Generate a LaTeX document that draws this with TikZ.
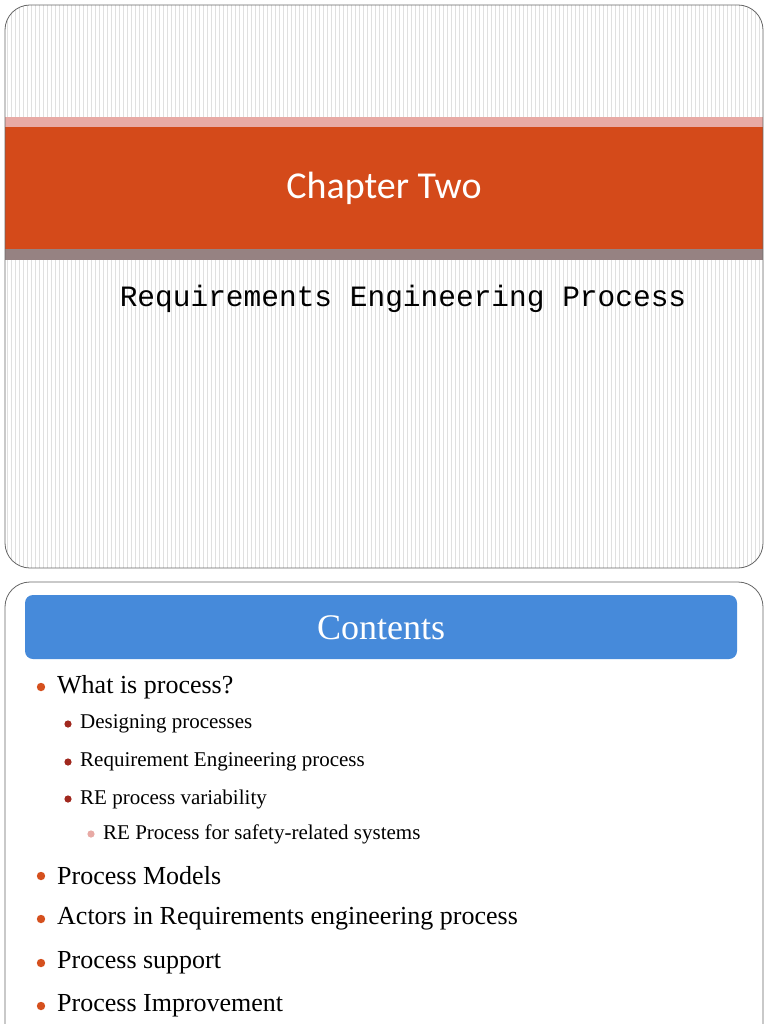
\documentclass[tikz,border=0pt]{standalone}
\usepackage{fontspec}
\setmainfont{Liberation Serif}
\newfontfamily\titlefont{Carlito}
\setmonofont{Liberation Mono}
\begin{document}
\begin{tikzpicture}[x=1pt,y=-1pt,
  slide/.style={draw=black!60,line width=0.8pt,rounded corners=25pt},
  lvlone/.style={anchor=west,font=\fontsize{26}{28}\selectfont,inner sep=0},
  lvltwo/.style={anchor=west,font=\fontsize{21}{24}\selectfont,inner sep=0},
  b1/.style={fill={rgb,255:red,213;green,80;blue,30}},
  b2/.style={fill={rgb,255:red,160;green,40;blue,30}},
  b3/.style={fill={rgb,255:red,232;green,170;blue,165}}]
\useasboundingbox (0,0) rectangle (768,1024);
\fill[white] (0,0) rectangle (768,1024);
% slide 1
\begin{scope}
\clip[rounded corners=25pt] (5,5) rectangle (763,568);
\foreach \i in {7,11,...,763} \draw[black!12,line width=0.8pt] (\i,5) -- (\i,568);
\fill[fill={rgb,255:red,232;green,170;blue,165}] (5,117) rectangle (763,127);
\fill[fill={rgb,255:red,212;green,74;blue,26}] (5,127) rectangle (763,249);
\fill[fill={rgb,255:red,150;green,130;blue,130}] (5,249) rectangle (763,260);
\end{scope}
\draw[slide] (5,5) rectangle (763,568);
\node[text=white,font=\titlefont\fontsize{38}{40}\selectfont] (title) at (384,188) {Chapter Two};
\node[font=\ttfamily\fontsize{29.5}{32}\selectfont] (sub) at (403,299) {Requirements Engineering Process};
% slide 2
\draw[slide] (5,1060) -- (5,582) -- (763,582) -- (763,1060);
\fill[fill={rgb,255:red,70;green,138;blue,218},rounded corners=8pt] (25,595) rectangle (737,659);
\node[text=white,font=\fontsize{36}{38}\selectfont] (cont) at (381,628) {Contents};
\foreach \y/\t in {687/What is process?,876/Process Models,919/Actors in Requirements engineering process,963/Process support,1006/Process Improvement}
  {\fill[b1] (41,\y) circle (4.2); \node[lvlone] at (57,\y) {\t};}
\foreach \y/\t in {724/Designing processes,762/Requirement Engineering process,799/RE process variability}
  {\fill[b2] (68,\y) circle (3.6); \node[lvltwo] at (80,\y) {\t};}
\fill[b3] (91,834) circle (3.6);
\node[lvltwo] at (103,834) {RE Process for safety-related systems};
\end{tikzpicture}
\end{document}
